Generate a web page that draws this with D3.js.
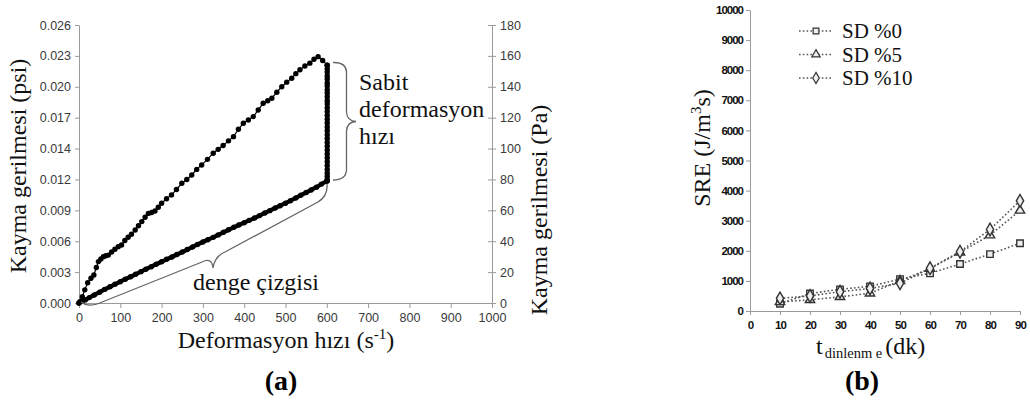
<!DOCTYPE html>
<html>
<head>
<meta charset="utf-8">
<script src="https://cdn.jsdelivr.net/npm/d3@7/dist/d3.min.js"></script>
<style>
  html, body { margin: 0; padding: 0; background: #fff; }
  svg { display: block; }
  .tick text { font-family: "Liberation Sans", Arial, sans-serif; }
  .serif { font-family: "Liberation Serif", "Times New Roman", Times, serif; }
</style>
</head>
<body>
<svg id="fig" width="1030" height="400"></svg>
<script>
// ---------- Panel (a): shear stress vs. shear rate ----------
// ramp up: [shear rate (1/s), shear stress (Pa)]
const rampUp = [
  [0, 0], [3, 1], [8, 4], [14, 8.5], [21, 13.1], [29, 16], [36, 18.1], [42, 23], [47, 26.8],
  [53, 28.5], [59, 30], [65, 30.6], [71, 31], [79, 33], [87, 34.8], [95, 36.5], [103, 37.6],
  [111, 40.5], [119, 42.6], [127, 44.5], [136, 47.3], [144, 50], [152, 52.7], [160, 55.5],
  [168, 58], [176, 58.6], [184, 59.6], [192, 62], [200, 64.6], [212, 67.5], [224, 70],
  [236, 73.5], [249, 77.5], [261, 80], [273, 82.9], [285, 86.5], [297, 89.4], [311, 93],
  [325, 97], [337, 99.5], [349, 102], [362, 105], [374, 107.7], [386, 112.5], [398, 116.4],
  [410, 118.5], [422, 120.7], [434, 125], [446, 129.3], [457, 131], [467, 132.6],
  [479, 136.5], [491, 140], [503, 143], [515, 145.5], [525, 148.5], [535, 151],
  [547, 153.5], [559, 155.3], [569, 157.8], [579, 159.5], [590, 157], [601, 154]
];
// hold at constant shear rate: stress relaxes
const holdRate = 601;
const holdStress = [154, 151.5, 149.5, 147, 145, 142.5, 140.5, 138, 136, 133.5, 131,
  129, 126.5, 124, 121.5, 119, 116.5, 114, 111.5, 109, 106.5, 104, 101.5, 99, 96.5,
  94, 91.5, 89, 86.5, 84, 82, 80, 79];
// ramp down (equilibrium line)
const rampDown = [
  [600, 79], [587, 77], [575, 75], [562, 73.2], [550, 71.5], [537, 69.8], [525, 68],
  [512, 66.2], [500, 64.6], [487, 63], [475, 61.5], [462, 59.8], [450, 58.3], [437, 56.6],
  [425, 55], [412, 53.5], [400, 52], [387, 50.5], [375, 49], [362, 47.4], [350, 45.8],
  [337, 44.1], [325, 42.5], [312, 41], [300, 39.5], [287, 37.9], [275, 36.3], [262, 34.6],
  [250, 33], [237, 31.4], [225, 29.8], [212, 28.3], [200, 26.7], [187, 25.1], [175, 23.5],
  [162, 21.9], [150, 20.3], [137, 18.6], [125, 17], [112, 15.4], [100, 13.8], [87, 12.1],
  [75, 10.5], [62, 8.8], [50, 7], [37, 5.2], [25, 3.5], [15, 2], [8, 1.2], [0, 0]
];
const rateTicks = [0, 100, 200, 300, 400, 500, 600, 700, 800, 900, 1000];
const paTicks = [0, 20, 40, 60, 80, 100, 120, 140, 160, 180];
const psiTickLabels = ["0.000", "0.003", "0.006", "0.009", "0.012", "0.014", "0.017", "0.020", "0.023", "0.026"];

// ---------- Panel (b): SRE vs. rest time ----------
const restTime = [10, 20, 30, 40, 50, 60, 70, 80, 90];
const sd0 = [240, 580, 720, 820, 1060, 1250, 1560, 1890, 2250];
const sd5 = [300, 370, 470, 590, 1000, 1410, 1950, 2520, 3340];
const sd10 = [420, 500, 640, 750, 920, 1420, 1970, 2710, 3660];
const seriesNames = ["SD %0", "SD %5", "SD %10"];
const timeTicks = [0, 10, 20, 30, 40, 50, 60, 70, 80, 90];
const sreTicks = [0, 1000, 2000, 3000, 4000, 5000, 6000, 7000, 8000, 9000, 10000];

const svg = d3.select("#fig");
const axisGray = "#9a9a9a";

function serifText(sel, size) {
  return sel.attr("class", "serif").style("font-size", size + "px").attr("fill", "#111");
}

// ===== Panel (a) =====
const ax = d3.scaleLinear().domain([0, 1000]).range([79, 492]);
const ay = d3.scaleLinear().domain([0, 180]).range([303, 25]);
const ga = svg.append("g");

function styleAxis(g) {
  g.attr("font-family", null);
  g.select(".domain").attr("stroke", axisGray);
  g.selectAll(".tick line").attr("stroke", axisGray);
}

ga.append("g").attr("transform", `translate(0,${ay(0)})`)
  .call(d3.axisBottom(ax).tickValues(rateTicks).tickSize(5).tickSizeOuter(0).tickFormat(d3.format("d")))
  .call(styleAxis)
  .call(g => g.selectAll(".tick text").attr("font-size", 12.5).attr("fill", "#3a3a3a").attr("dy", "0.85em"));

ga.append("g").attr("transform", `translate(${ax(0)},0)`)
  .call(d3.axisLeft(ay).tickValues(paTicks).tickSize(4).tickSizeOuter(0)
    .tickFormat((d, i) => psiTickLabels[i]))
  .call(styleAxis)
  .call(g => g.selectAll(".tick text").attr("font-size", 12.5).attr("fill", "#3a3a3a").attr("x", -8));

ga.append("g").attr("transform", `translate(${ax(1000)},0)`)
  .call(d3.axisRight(ay).tickValues(paTicks).tickSize(4).tickSizeOuter(0).tickFormat(d3.format("d")))
  .call(styleAxis)
  .call(g => {
    g.selectAll(".tick line").attr("x1", -4);
    g.selectAll(".tick text").attr("font-size", 12.5).attr("fill", "#3a3a3a").attr("x", 8);
  });

// measured curve
const holdPts = holdStress.map(s => [holdRate, s]);
const loop = rampUp.concat(holdPts, rampDown);
const lineA = d3.line().x(d => ax(d[0])).y(d => ay(d[1]));
ga.append("path").datum(rampUp).attr("d", lineA)
  .attr("fill", "none").attr("stroke", "#000").attr("stroke-width", 1.2);
ga.append("path").datum(holdPts).attr("d", lineA)
  .attr("fill", "none").attr("stroke", "#000").attr("stroke-width", 4);
ga.append("path").datum(rampDown).attr("d", lineA)
  .attr("fill", "none").attr("stroke", "#000").attr("stroke-width", 4.2);
ga.append("g").selectAll("circle").data(loop).join("circle")
  .attr("cx", d => ax(d[0])).attr("cy", d => ay(d[1])).attr("r", 2.7).attr("fill", "#000");

// braces and annotations
ga.append("path")
  .attr("d", "M333,62.5 Q346,62 346.5,72 L346.5,112 Q347,121 356,121.5 Q347,122 346.5,131 L346.5,170 Q346,180 333,180")
  .attr("fill", "none").attr("stroke", "#666").attr("stroke-width", 1.3);
ga.append("path")
  .attr("d", "M81,302 Q89,308 101,302.5 L202,262 Q212,257 213,268 Q215,256 225,252 L318,202 Q328,196 327,184")
  .attr("fill", "none").attr("stroke", "#666").attr("stroke-width", 1.3);

const noteA = serifText(ga.append("text"), 24);
noteA.append("tspan").attr("x", 359).attr("y", 90).text("Sabit");
noteA.append("tspan").attr("x", 359).attr("y", 117).text("deformasyon");
noteA.append("tspan").attr("x", 359).attr("y", 144).text("hızı");
serifText(ga.append("text"), 24).attr("x", 193).attr("y", 290).text("denge çizgisi");

// axis titles
const xt = serifText(ga.append("text"), 24).attr("x", 286).attr("y", 348).attr("text-anchor", "middle");
xt.append("tspan").text("Deformasyon hızı (s");
xt.append("tspan").style("font-size", "15px").attr("dy", -9).text("-1");
xt.append("tspan").attr("dy", 9).text(")");

serifText(ga.append("text"), 24).attr("transform", "translate(26,166) rotate(-90)")
  .attr("text-anchor", "middle").text("Kayma gerilmesi (psi)");
serifText(ga.append("text"), 24).attr("transform", "translate(547,210) rotate(-90)")
  .attr("text-anchor", "middle").text("Kayma gerilmesi (Pa)");

serifText(svg.append("text"), 28).attr("x", 281).attr("y", 390).attr("text-anchor", "middle")
  .attr("font-weight", "bold").attr("fill", "#000").text("(a)");

// ===== Panel (b) =====
const bx = d3.scaleLinear().domain([0, 90]).range([750, 1020]);
const by = d3.scaleLinear().domain([0, 10000]).range([311, 10]);
const gb = svg.append("g");

gb.append("g").attr("transform", `translate(0,${by(0)})`)
  .call(d3.axisBottom(bx).tickValues(timeTicks).tickSize(4).tickSizeOuter(0))
  .call(styleAxis)
  .call(g => g.selectAll(".tick text").attr("font-size", 11.5).attr("font-weight", "bold")
    .attr("letter-spacing", "-1px").attr("fill", "#111").attr("dy", "0.95em"));

gb.append("g").attr("transform", `translate(${bx(0)},0)`)
  .call(d3.axisLeft(by).tickValues(sreTicks).tickSize(4).tickSizeOuter(0).tickFormat(d3.format("d")))
  .call(styleAxis)
  .call(g => g.selectAll(".tick text").attr("font-size", 11.5).attr("font-weight", "bold")
    .attr("letter-spacing", "-1px").attr("fill", "#111").attr("x", -7));

const seriesB = [sd0, sd5, sd10];
const symbols = [d3.symbolSquare, d3.symbolTriangle, d3.symbolDiamond];
const symSize = [42, 38, 46];
const lineB = d3.line().x((d, i) => bx(restTime[i])).y(d => by(d));

seriesB.forEach(vals => {
  gb.append("path").datum(vals).attr("d", lineB).attr("fill", "none")
    .attr("stroke", "#555").attr("stroke-width", 1.6).attr("stroke-dasharray", "1.6,2.2");
});
seriesB.forEach((vals, k) => {
  gb.append("g").selectAll("path").data(vals).join("path")
    .attr("transform", (d, i) => `translate(${bx(restTime[i])},${by(d)})`)
    .attr("d", d3.symbol(symbols[k], symSize[k]))
    .attr("fill", "#eee").attr("stroke", "#333").attr("stroke-width", 1.4);
});

// legend
seriesNames.forEach((name, k) => {
  const y = 31 + k * 23.5;
  const lg = gb.append("g").attr("transform", `translate(0,${y})`);
  lg.append("line").attr("x1", 799).attr("x2", 833).attr("y1", 0).attr("y2", 0)
    .attr("stroke", "#555").attr("stroke-width", 1.6).attr("stroke-dasharray", "1.6,2.2");
  lg.append("path").attr("transform", "translate(816,0)").attr("d", d3.symbol(symbols[k], symSize[k] * 0.8))
    .attr("fill", "#eee").attr("stroke", "#333").attr("stroke-width", 1.2);
  serifText(lg.append("text"), 21).attr("x", 842).attr("y", 7).text(name);
});

// axis titles
const yb = serifText(gb.append("text"), 24).attr("transform", "translate(710,148) rotate(-90)")
  .attr("text-anchor", "middle");
yb.append("tspan").text("SRE (J/m");
yb.append("tspan").style("font-size", "15px").attr("dy", -9).text("3");
yb.append("tspan").attr("dy", 9).text("s)");

const xb = serifText(gb.append("text"), 24).attr("x", 816).attr("y", 354);
xb.append("tspan").text("t");
xb.append("tspan").style("font-size", "14.5px").attr("dy", 4).attr("dx", 2).text("dinlenm e");
xb.append("tspan").attr("dy", -4).attr("dx", 3).text("(dk)");

serifText(svg.append("text"), 28).attr("x", 862).attr("y", 390).attr("text-anchor", "middle")
  .attr("font-weight", "bold").attr("fill", "#000").text("(b)");
</script>
</body>
</html>
